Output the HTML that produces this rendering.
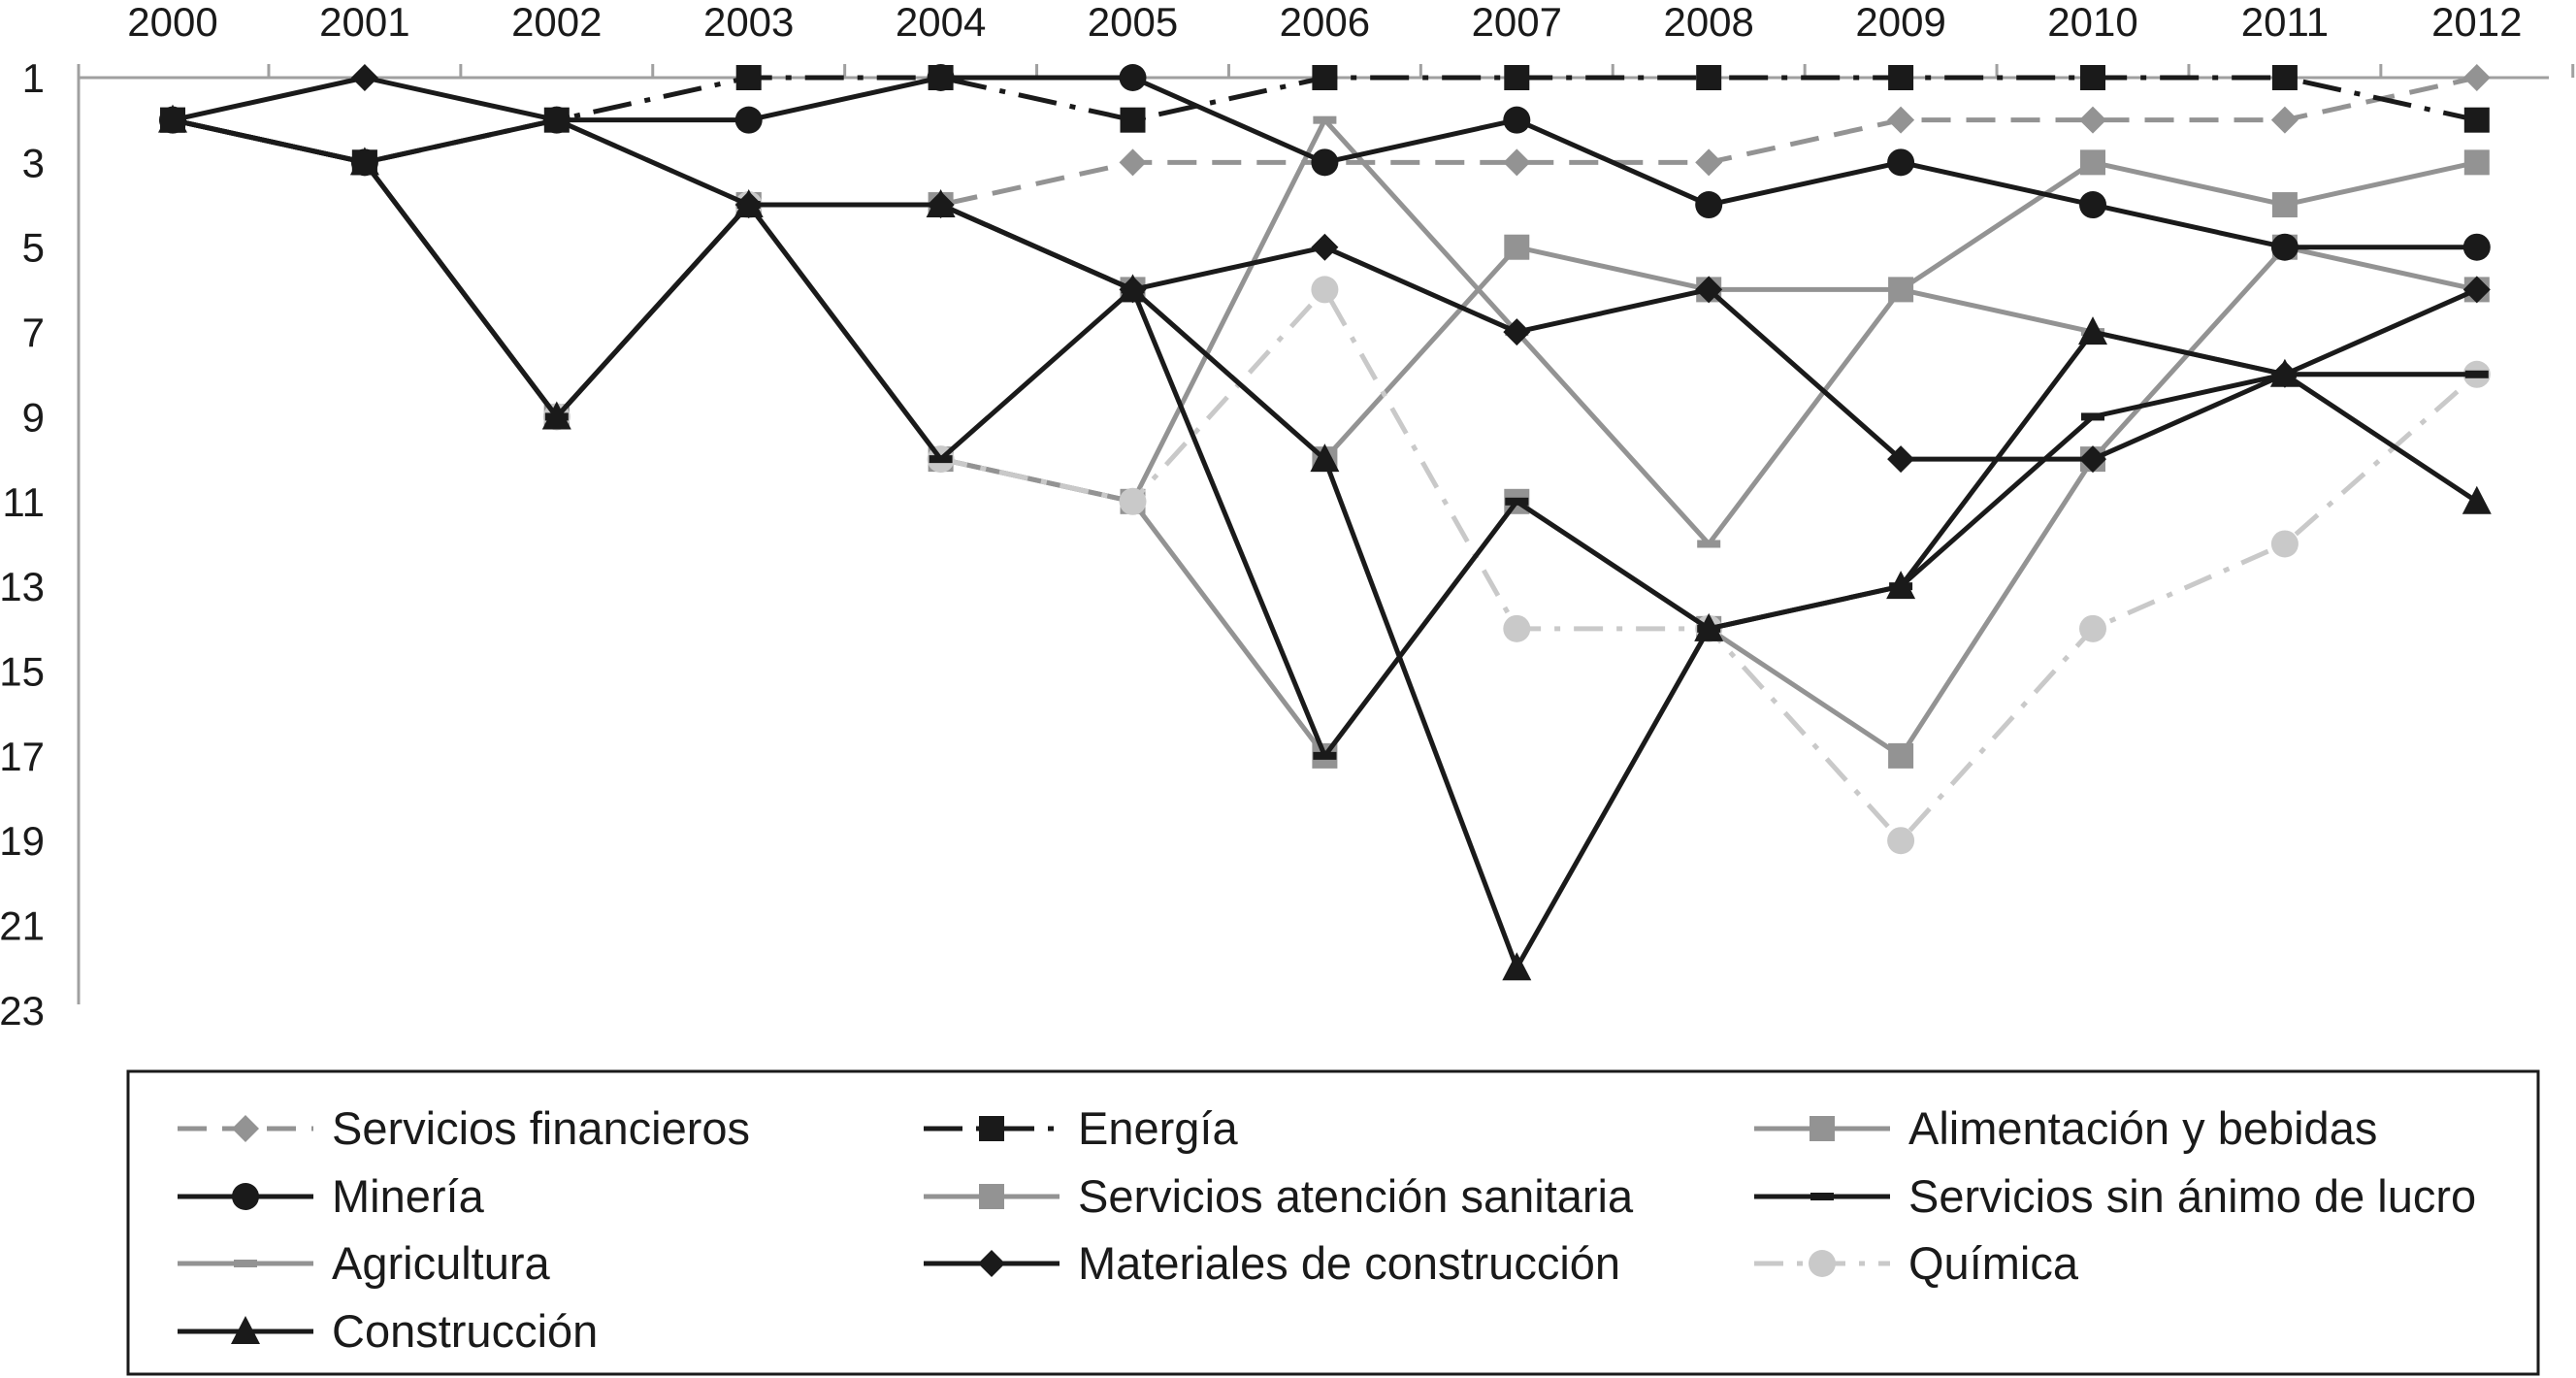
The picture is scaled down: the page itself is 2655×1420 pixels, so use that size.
<!DOCTYPE html>
<html><head><meta charset="utf-8"><style>
html,body{margin:0;padding:0;background:#fff;}
svg{display:block;font-family:"Liberation Sans",sans-serif;}
</style></head><body>
<svg id="chart" width="2655" height="1420" viewBox="0 0 2655 1420" xmlns="http://www.w3.org/2000/svg"></svg>
<script>
const years = ["2000","2001","2002","2003","2004","2005","2006","2007","2008","2009","2010","2011","2012"];
const yTicks = [1,3,5,7,9,11,13,15,17,19,21,23];
const financieros = [2,3,2,4,4,3,3,3,3,2,2,2,1];
const energia = [2,3,2,1,1,2,1,1,1,1,1,1,2];
const alimentacion = [2,3,9,4,4,6,10,5,6,6,3,4,3];
const mineria = [2,3,2,2,1,1,3,2,4,3,4,5,5];
const sanitaria = [2,3,9,4,10,11,17,11,14,17,10,5,6];
const sinAnimo = [2,3,9,4,10,6,17,11,14,13,9,8,8];
const agricultura = [2,3,9,4,10,11,2,7,12,6,7,8,8];
const materiales = [2,1,2,4,4,6,5,7,6,10,10,8,6];
const quimica = [2,3,9,4,10,11,6,14,14,19,14,12,8];
const construccion = [2,3,9,4,4,6,10,22,14,13,7,8,11];

const NS="http://www.w3.org/2000/svg";
const svg=document.getElementById('chart');
const X0=178, XSTEP=197.9, Y1=80, YSTEP=43.68;
const xScale=i=>X0+i*XSTEP;
const yScale=r=>Y1+(r-1)*YSTEP;
function mk(tag,attrs,parent){const e=document.createElementNS(NS,tag);for(const k in attrs)e.setAttribute(k,attrs[k]);(parent||svg).appendChild(e);return e;}

const BLACK="#1a1a1a", GRAY="#939393", LIGHT="#c9c9c9";

const axes=mk('g',{});


const xAxis=mk('line',{x1:81,y1:Y1,x2:2627,y2:Y1,stroke:"#a0a0a0","stroke-width":3},axes);


const yAxis=mk('line',{x1:81,y1:Y1-14,x2:81,y2:1035,stroke:"#a0a0a0","stroke-width":3},axes);


for(let i=0;i<=years.length;i++){
  const x=xScale(i)-XSTEP/2;
  if(x<81) continue;
  const t=mk('line',{x1:x,y1:Y1,x2:x,y2:Y1-14,stroke:"#a0a0a0","stroke-width":3},axes);
  
  
}
years.forEach((y,i)=>{
  const t=mk('text',{x:xScale(i),y:37,"font-size":42,"text-anchor":"middle",fill:BLACK},axes);
  t.textContent=y;
  
  
});
yTicks.forEach(v=>{
  const t=mk('text',{x:46,y:yScale(v)+15,"font-size":42,"text-anchor":"end",fill:BLACK},axes);
  t.textContent=v;
  
  
});

function marker(g,type,x,y,color){
  let e;
  if(type==='square') e=mk('rect',{x:x-13,y:y-13,width:26,height:26,fill:color},g);
  else if(type==='circle') e=mk('circle',{cx:x,cy:y,r:14,fill:color},g);
  else if(type==='diamond') e=mk('polygon',{points:`${x},${y-14} ${x+14},${y} ${x},${y+14} ${x-14},${y}`,fill:color},g);
  else if(type==='triangle') e=mk('polygon',{points:`${x},${y-16} ${x+15},${y+13} ${x-15},${y+13}`,fill:color},g);
  else if(type==='dash') e=mk('rect',{x:x-12,y:y-4,width:24,height:8,fill:color},g);
  
  
}

const series=[
 {name:"Servicios financieros",data:financieros,color:GRAY,dash:"30,16",m:"diamond",col:0,row:0},
 {name:"Energía",data:energia,color:BLACK,dash:"40,14,6,14",m:"square",col:1,row:0},
 {name:"Alimentación y bebidas",data:alimentacion,color:GRAY,dash:"",m:"square",col:2,row:0},
 {name:"Minería",data:mineria,color:BLACK,dash:"",m:"circle",col:0,row:1},
 {name:"Servicios atención sanitaria",data:sanitaria,color:GRAY,dash:"",m:"square",col:1,row:1},
 {name:"Servicios sin ánimo de lucro",data:sinAnimo,color:BLACK,dash:"",m:"dash",col:2,row:1},
 {name:"Agricultura",data:agricultura,color:GRAY,dash:"",m:"dash",col:0,row:2},
 {name:"Materiales de construcción",data:materiales,color:BLACK,dash:"",m:"diamond",col:1,row:2},
 {name:"Química",data:quimica,color:LIGHT,dash:"30,14,6,14",m:"circle",col:2,row:2},
 {name:"Construcción",data:construccion,color:BLACK,dash:"",m:"triangle",col:0,row:3}
];
const drawOrder=[6,4,2,0,8,5,7,3,9,1];
drawOrder.forEach(si=>{
  const s=series[si];
  const g=mk('g',{});
  
  
  const pts=s.data.map((v,i)=>xScale(i)+","+yScale(v)).join(" ");
  const pl=mk('polyline',{points:pts,fill:"none",stroke:s.color,"stroke-width":5,"stroke-linejoin":"round","stroke-dasharray":s.dash||"none"},g);
  
  
  s.data.forEach((v,i)=>marker(g,s.m,xScale(i),yScale(v),s.color));
});

const lg=mk('g',{});


const box=mk('rect',{x:132,y:1104,width:2484,height:312,fill:"none",stroke:BLACK,"stroke-width":3},lg);


const colX=[183,952,1808], rowY=[1163,1233,1302,1372];
series.forEach(s=>{
  const e=mk('g',{},lg);
  
  
  const x=colX[s.col], y=rowY[s.row];
  mk('line',{x1:x,y1:y,x2:x+140,y2:y,stroke:s.color,"stroke-width":5,"stroke-dasharray":s.dash||"none"},e);
  marker(e,s.m,x+70,y,s.color);
  const t=mk('text',{x:x+159,y:y+16,"font-size":47,fill:BLACK},e);
  t.textContent=s.name;
});
</script>
</body></html>
